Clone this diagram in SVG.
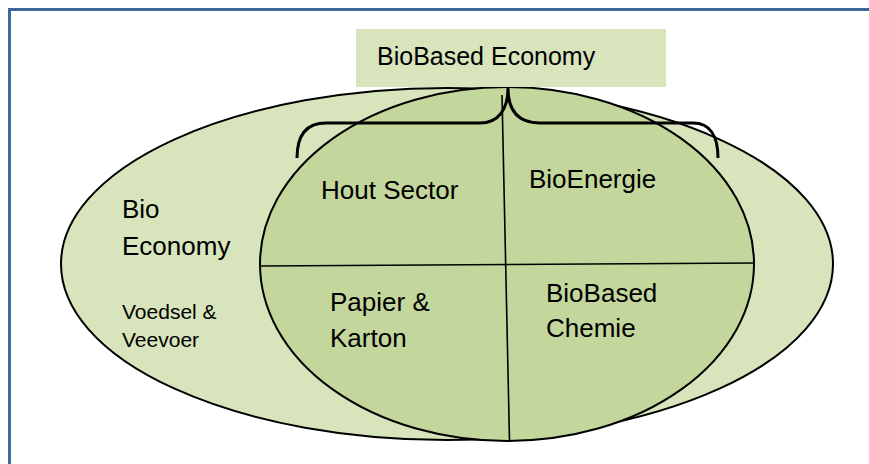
<svg xmlns="http://www.w3.org/2000/svg" width="869" height="464" viewBox="0 0 869 464">
<style>
.t{font-family:"Liberation Sans",Arial,sans-serif;fill:#000}
.big{font-size:26px}
.small{font-size:21px}
.ell{stroke:#000;stroke-width:2}
.div{stroke:#000;stroke-width:1.6;fill:none}
</style>
<rect x="0" y="0" width="869" height="464" fill="#fff"/>
<path d="M9.5,470 L9.5,9.5 L880,9.5" fill="none" stroke="#41689b" stroke-width="3"/>
<g id="bio-economy">
<ellipse class="ell" cx="447" cy="264" rx="386" ry="176" fill="#d8e4bc"/>
<text class="t big" x="122" y="218">Bio</text>
<text class="t big" x="122" y="255">Economy</text>
<text class="t small" x="122" y="319">Voedsel &amp;</text>
<text class="t small" x="122" y="347">Veevoer</text>
</g>
<g id="biobased-core">
<ellipse class="ell" cx="507" cy="264" rx="247" ry="177" fill="#c3d69b"/>
</g>
<g id="connectors">
<line class="div" x1="502" y1="95" x2="509.5" y2="441"/>
<line class="div" x1="260" y1="266" x2="755" y2="263"/>
<path d="M297,158 C297,136 306,123 326,123 L480,123 C498,123 508,110 508,88 C508,110 518,123 540,123 L693,123 C710,123 718,136 718,158" fill="none" stroke="#000" stroke-width="3"/>
</g>
<g id="hout-sector"><text class="t big" x="321" y="199">Hout Sector</text></g>
<g id="bioenergie"><text class="t big" x="529" y="188">BioEnergie</text></g>
<g id="papier-karton">
<text class="t big" x="330" y="311">Papier &amp;</text>
<text class="t big" x="330" y="347">Karton</text>
</g>
<g id="biobased-chemie">
<text class="t big" x="546" y="302">BioBased</text>
<text class="t big" x="546" y="337">Chemie</text>
</g>
<g id="biobased-economy">
<rect x="356" y="29" width="310" height="58" fill="#d8e4bc"/>
<text class="t" style="font-size:25px" x="377" y="65">BioBased Economy</text>
</g>
</svg>
